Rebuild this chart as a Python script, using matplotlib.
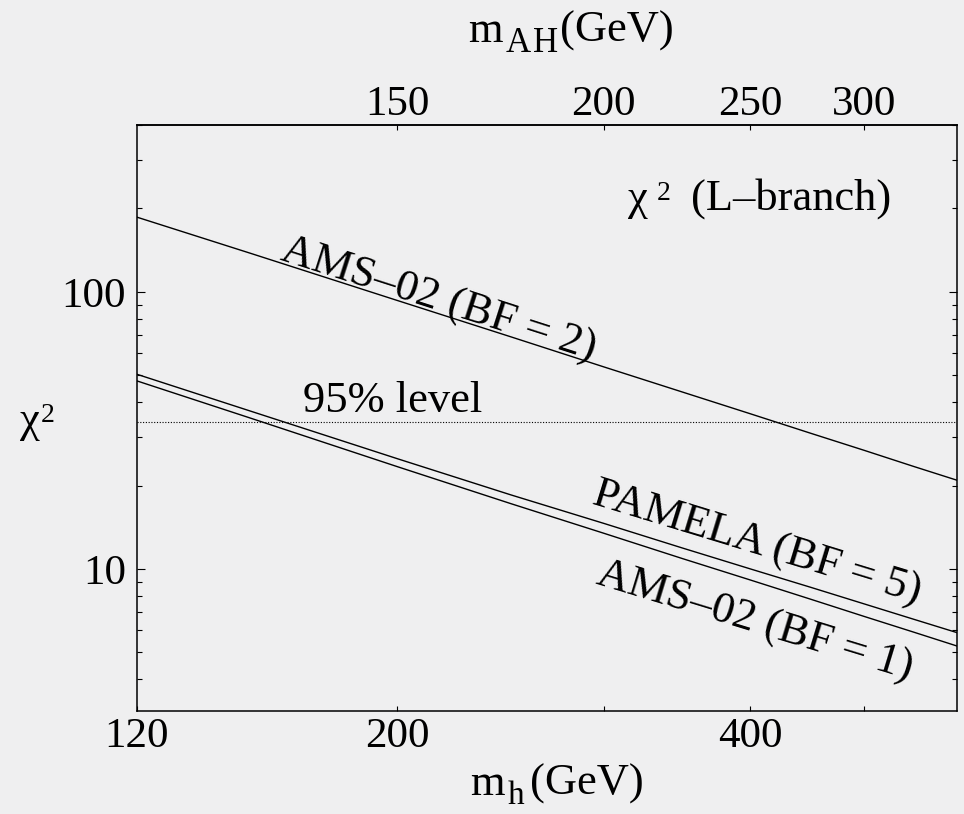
import matplotlib
matplotlib.use("Agg")
import matplotlib.pyplot as plt
from matplotlib.ticker import FixedLocator, FixedFormatter, NullLocator, LogLocator, NullFormatter

# Times-like serif everywhere
plt.rcParams["font.family"] = "Liberation Serif"

# Higgs mass grid (GeV) and chi^2 curves
m_h = [120, 150, 200, 250, 300, 350, 400, 450, 500, 550, 600]
chi2_ams02_bf2 = [186, 137.7, 93.1, 68.8, 53.6, 43.5, 36.3, 30.9, 26.8, 23.5, 20.9]
chi2_pamela_bf5 = [50.4, 37.1, 25.0, 18.5, 14.6, 11.9, 10.0, 8.59, 7.48, 6.60, 5.89]
chi2_ams02_bf1 = [47.7, 35.0, 23.4, 17.2, 13.45, 10.9, 9.12, 7.78, 6.74, 5.93, 5.27]
chi2_95 = 33.9

# bottom axis ticks
mh_ticks = [120, 200, 300, 400, 500]
mh_labels = ["120", "200", "", "400", ""]
# top axis: m_AH values
mah_ticks = [150, 200, 250, 300]

bg = "#efeff0"
fig = plt.figure(figsize=(9.64, 8.14), dpi=100, facecolor=bg)
ax = fig.add_axes([0.1421, 0.1265, 0.8506, 0.7199], facecolor=bg)

ax.set_xscale("log")
ax.set_yscale("log")
ax.set_xlim(120, 600)
ax.set_ylim(3.07, 400)

ax.plot(m_h, chi2_ams02_bf2, color="black", lw=1.0)
ax.plot(m_h, chi2_pamela_bf5, color="black", lw=1.0)
ax.plot(m_h, chi2_ams02_bf1, color="black", lw=1.0)
ax.axhline(chi2_95, color="black", lw=0.8, linestyle=(0, (1, 1.5)))

for s in ax.spines.values():
    s.set_linewidth(1.1)

# x ticks
ax.xaxis.set_major_locator(FixedLocator(mh_ticks))
ax.xaxis.set_major_formatter(FixedFormatter(mh_labels))
ax.xaxis.set_minor_locator(NullLocator())
ax.tick_params(axis="x", which="major", direction="in", length=3.5, width=0.8,
               top=False, bottom=True, labelsize=31, pad=5)

# y ticks, both sides
ax.yaxis.set_minor_locator(LogLocator(base=10, subs=range(2, 10), numticks=20))
ax.yaxis.set_minor_formatter(NullFormatter())
ax.set_yticks([10, 100])
ax.set_yticklabels(["10", "100"])
ax.tick_params(axis="y", which="major", direction="in", length=6, width=0.8,
               left=True, right=True, labelsize=31, pad=8)
ax.tick_params(axis="y", which="minor", direction="in", length=3.6, width=0.8,
               left=True, right=True)

# top axis in m_AH
sec = ax.secondary_xaxis("top", functions=(lambda x: x / 2 + 50, lambda x: 2 * (x - 50)))
sec.set_xticks(mah_ticks)
sec.set_xticklabels([str(v) for v in mah_ticks])
sec.xaxis.set_minor_locator(NullLocator())
sec.tick_params(axis="x", direction="in", length=3.5, width=0.8, labelsize=31, pad=1)
sec.spines["top"].set_linewidth(1.1)


def compose(x, y, parts):
    """Write a label piece by piece: (text, fontsize, baseline shift pt, gap pt)."""
    s, fs, dy, _ = parts[0]
    t = ax.text(x, y, s, fontsize=fs, ha="left", va="baseline",
                transform=fig.transFigure)
    prev_fs, prev_dy = fs, dy
    for s, fs, dy, gap in parts[1:]:
        off = (dy - prev_dy) + 0.217 * (prev_fs - fs)
        t = ax.annotate(s, xy=(1, 0), xycoords=t, xytext=(gap, off),
                        textcoords="offset points", fontsize=fs,
                        ha="left", va="bottom", annotation_clip=False)
        prev_fs, prev_dy = fs, dy
    return t


# axis titles
compose(0.4876, 1 - 795 / 814, [("m", 32, 0, 0), ("h", 24, -6.5, 2), ("(GeV)", 32, 0, 4)])
compose(0.4855, 0.9488, [("m", 32, 0, 0), ("A", 25, -8.5, 2), ("H", 25, -8.5, 2),
                         ("(GeV)", 32, 0, 1)])
compose(0.0207, 0.4693, [("χ", 32, 0, 0), ("2", 20, 7, 1)])

# annotations
compose(0.6515, 1 - 210 / 814, [("χ", 32, 0, 0), ("2", 20, 7, 6),
                                ("(L–branch)", 32, 0, 15)])
ax.text(166.1, 36.8, "95% level", fontsize=32, ha="left", va="baseline")
ax.text(158.4, 130.7, "AMS–02 (BF = 2)", fontsize=32, rotation=-17.8,
        rotation_mode="anchor", ha="left", va="baseline")
ax.text(292.6, 17.2, "PAMELA (BF = 5)", fontsize=32, rotation=-17,
        rotation_mode="anchor", ha="left", va="baseline")
ax.text(294.5, 8.86, "AMS–02 (BF = 1)", fontsize=32, rotation=-17,
        rotation_mode="anchor", ha="left", va="baseline")

fig.savefig("out.png", dpi=100, facecolor=bg)
